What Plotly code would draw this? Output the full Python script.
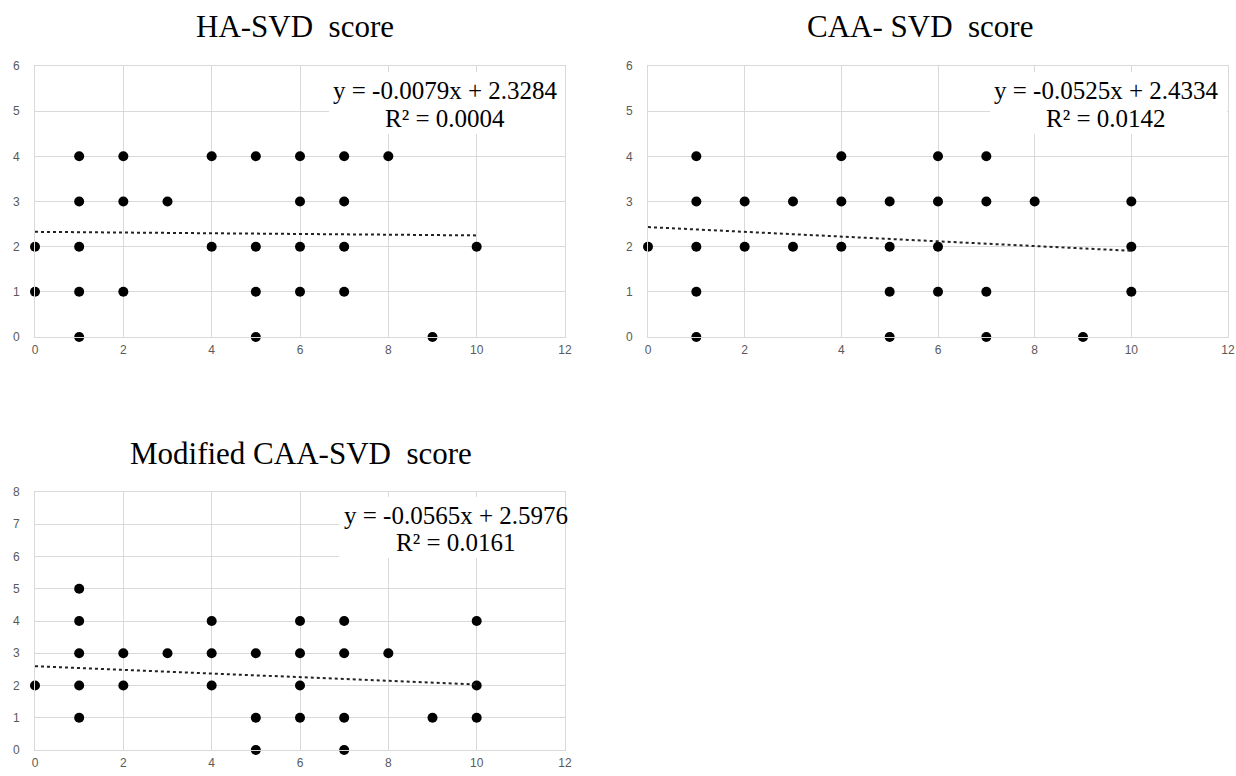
import plotly.graph_objects as go

W, H = 1236, 776

# ---- data ----
ha_x = [0, 0, 1, 1, 1, 1, 1, 2, 2, 2, 3, 4, 4, 5, 5, 5, 5, 6, 6, 6, 6, 7, 7, 7, 7, 8, 9, 10]
ha_y = [2, 1, 4, 3, 2, 1, 0, 4, 3, 1, 3, 4, 2, 4, 2, 1, 0, 4, 3, 2, 1, 4, 3, 2, 1, 4, 0, 2]
ha_slope, ha_icpt, ha_r2 = -0.0079, 2.3284, "0.0004"

caa_x = [0, 1, 1, 1, 1, 1, 2, 2, 3, 3, 4, 4, 4, 5, 5, 5, 5, 6, 6, 6, 6, 7, 7, 7, 7, 8, 9, 10, 10, 10]
caa_y = [2, 4, 3, 2, 1, 0, 3, 2, 3, 2, 4, 3, 2, 3, 2, 1, 0, 4, 3, 2, 1, 4, 3, 1, 0, 3, 0, 3, 2, 1]
caa_slope, caa_icpt, caa_r2 = -0.0525, 2.4334, "0.0142"

mod_x = [0, 1, 1, 1, 1, 1, 2, 2, 3, 4, 4, 4, 5, 5, 5, 6, 6, 6, 6, 7, 7, 7, 7, 8, 9, 10, 10, 10]
mod_y = [2, 5, 4, 3, 2, 1, 3, 2, 3, 4, 3, 2, 3, 1, 0, 4, 3, 2, 1, 4, 3, 1, 0, 3, 1, 4, 2, 1]
mod_slope, mod_icpt, mod_r2 = -0.0565, 2.5976, "0.0161"

titles = ["HA-SVD  score", "CAA- SVD  score", "Modified CAA-SVD  score"]
x_ticks = [0, 2, 4, 6, 8, 10, 12]
trend_x = [0, 10]


def px(x):
    return x / W


def py(y):
    return 1 - y / H


panels = [
    dict(xs=ha_x, ys=ha_y, m=ha_slope, b=ha_icpt, r2=ha_r2, title=titles[0],
         x0=35, x1=565, y0=337, y1=66, ymax=6, title_x=295, title_y=27,
         eq_x=445, eq_y1=90, eq_y2=118, box=(329, 72, 565, 134)),
    dict(xs=caa_x, ys=caa_y, m=caa_slope, b=caa_icpt, r2=caa_r2, title=titles[1],
         x0=648, x1=1228, y0=337, y1=66, ymax=6, title_x=920, title_y=27,
         eq_x=1106, eq_y1=90, eq_y2=118, box=(990, 72, 1227, 134)),
    dict(xs=mod_x, ys=mod_y, m=mod_slope, b=mod_icpt, r2=mod_r2, title=titles[2],
         x0=35, x1=565, y0=750, y1=492, ymax=8, title_x=301, title_y=453,
         eq_x=456, eq_y1=515, eq_y2=542, box=(339, 497, 565, 558)),
]

fig = go.Figure()
annotations = []
shapes = []
layout = dict(
    width=W, height=H, margin=dict(l=0, r=0, t=0, b=0),
    paper_bgcolor="white", plot_bgcolor="white", showlegend=False,
)
tickfont = dict(family="Liberation Sans, Arial, sans-serif", size=12, color="#595959")
grid = "#d9d9d9"
serif = "Liberation Serif, Times New Roman, serif"

for i, p in enumerate(panels, start=1):
    xa = "x" if i == 1 else f"x{i}"
    ya = "y" if i == 1 else f"y{i}"
    fig.add_trace(go.Scatter(
        x=p["xs"], y=p["ys"], mode="markers", xaxis=xa, yaxis=ya,
        marker=dict(color="black", size=10), cliponaxis=False,
    ))
    fig.add_trace(go.Scatter(
        x=trend_x, y=[p["m"] * t + p["b"] for t in trend_x], mode="lines",
        xaxis=xa, yaxis=ya, line=dict(color="#222222", width=2, dash="dot"),
    ))
    layout[f"xaxis{'' if i == 1 else i}"] = dict(
        domain=[px(p["x0"]), px(p["x1"])], range=[0, 12], tickvals=x_ticks,
        showgrid=True, gridcolor=grid, gridwidth=1, zeroline=False,
        showline=True, linecolor=grid, mirror=True, ticks="", tickfont=tickfont,
        anchor=ya, fixedrange=True, ticklabelstandoff=2, automargin=False,
    )
    layout[f"yaxis{'' if i == 1 else i}"] = dict(
        domain=[py(p["y0"]), py(p["y1"])], range=[0, p["ymax"]], dtick=1,
        showgrid=True, gridcolor=grid, gridwidth=1, zeroline=False,
        showline=True, linecolor=grid, mirror=True, ticks="", tickfont=tickfont,
        anchor=xa, ticklabelstandoff=12, fixedrange=True, automargin=False,
    )
    annotations.append(dict(
        text=p["title"], xref="paper", yref="paper",
        x=px(p["title_x"]), y=py(p["title_y"]),
        xanchor="center", yanchor="middle", showarrow=False,
        font=dict(family=serif, size=31, color="black"),
    ))
    bx0, by0, bx1, by1 = p["box"]
    shapes.append(dict(
        type="rect", xref="paper", yref="paper",
        x0=px(bx0), x1=px(bx1), y0=py(by1), y1=py(by0),
        fillcolor="white", line=dict(width=0), layer="above",
    ))
    annotations.append(dict(
        text=f"y = {p['m']:.4f}x + {p['b']:.4f}",
        xref="paper", yref="paper", x=px(p["eq_x"]), y=py(p["eq_y1"]),
        xanchor="center", yanchor="middle", showarrow=False,
        font=dict(family=serif, size=25, color="black"),
    ))
    annotations.append(dict(
        text=f"R² = {p['r2']}",
        xref="paper", yref="paper", x=px(p["eq_x"]), y=py(p["eq_y2"]),
        xanchor="center", yanchor="middle", showarrow=False,
        font=dict(family=serif, size=25, color="black"),
    ))

layout["annotations"] = annotations
layout["shapes"] = shapes
fig.update_layout(**layout)
fig.write_html(
    "out.html",
    config={"displayModeBar": False},
    post_script="document.body.style.margin='0';document.body.style.overflow='hidden';",
)
